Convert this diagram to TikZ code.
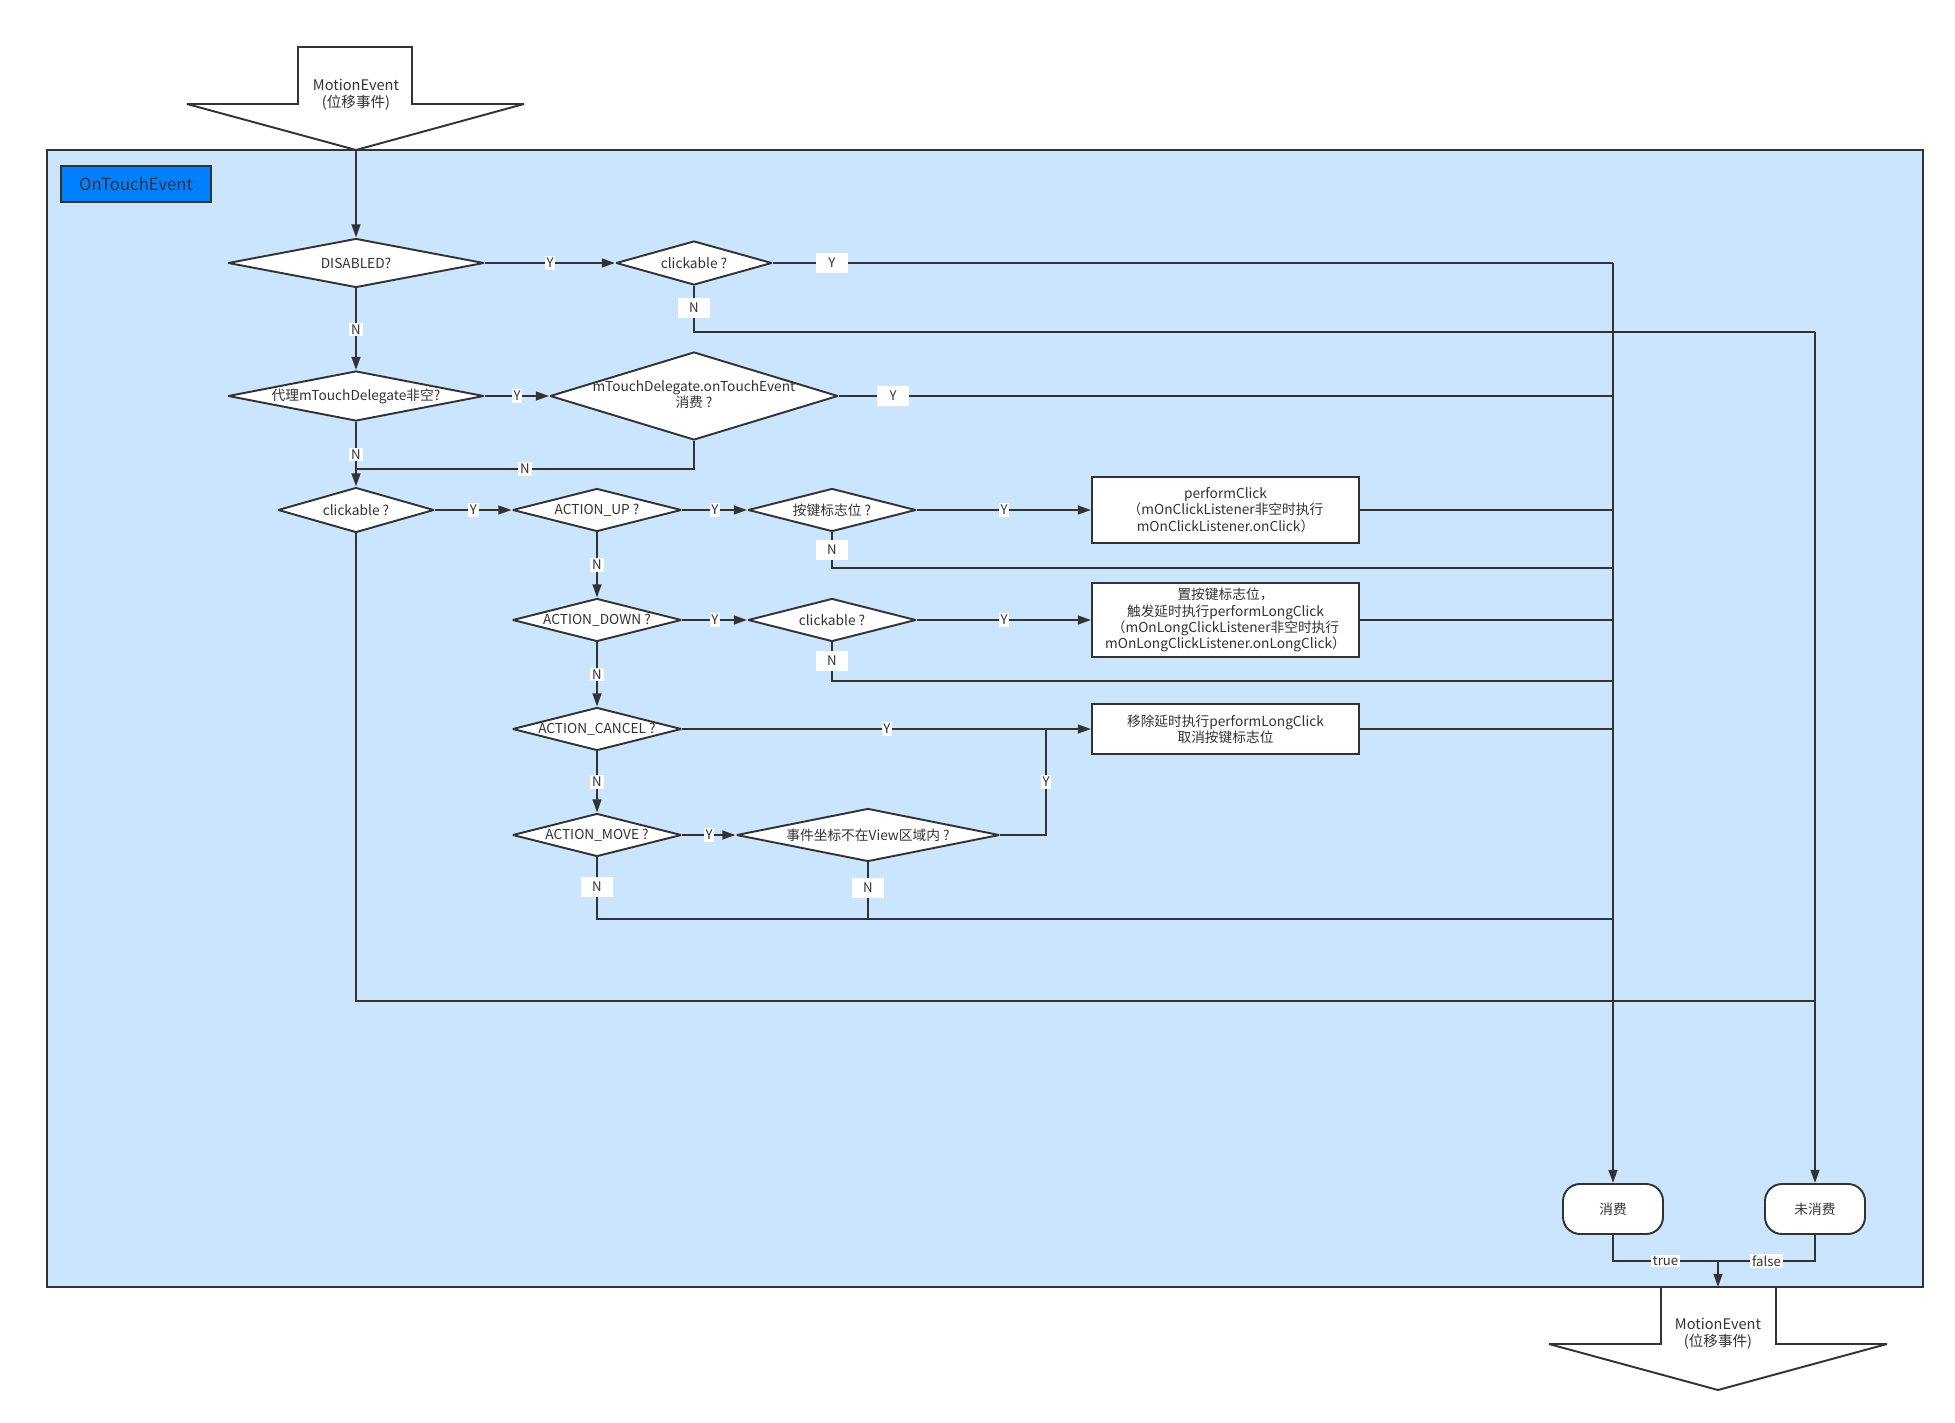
\documentclass[tikz,border=0pt]{standalone}
\usepackage{fontspec}
\setmainfont{Noto Sans CJK SC}
\usepackage{xcolor}
\usepackage{tikz}
\usetikzlibrary{positioning,arrows.meta,shapes.geometric}

\definecolor{ink}{HTML}{333333}
\definecolor{paneblue}{HTML}{CCE5FF}
\definecolor{titleblue}{HTML}{0080FF}

\begin{document}
\begin{tikzpicture}[x=0.02cm, y=-0.02cm, line width=1.1pt, color=ink, miter limit=3,
    font=\fontsize{7.8pt}{9.2pt}\selectfont,
    arr/.style={-{Triangle[length=7.5pt,width=5pt]}},
    decision/.style 2 args={diamond, draw, fill=white, inner sep=0pt, aspect=1,
      minimum width=#1*0.02cm, minimum height=#2*0.02cm,
      execute at begin node={\hbox to 0pt\bgroup\hss},
      execute at end node={\hss\egroup}},
    process/.style 2 args={rectangle, draw, fill=white, align=center, inner sep=0pt,
      minimum width=#1*0.02cm, minimum height=#2*0.02cm},
    terminal/.style={rectangle, draw, fill=white, rounded corners=0.34cm,
      minimum width=2cm, minimum height=1cm},
    tag/.style={fill=white, inner sep=1pt, font=\fontsize{7.5pt}{9pt}\selectfont},
    padtag/.style={tag, minimum width=0.64cm, minimum height=0.4cm}]
  \useasboundingbox (0,0) rectangle (1955,1423);

  % Frame
  \filldraw[fill=paneblue] (47,150) rectangle (1923,1287);
  \node[draw, fill=titleblue, minimum width=3cm, minimum height=0.72cm,
    font=\fontsize{9.5pt}{11pt}\selectfont] (title) at (136,184) {OnTouchEvent};

  % Input event
  \filldraw[fill=white] (298,47) -- (412,47) -- (412,104) -- (524,104) -- (356,150)
    -- (187,104) -- (298,104) -- cycle;
  \node[align=center, font=\fontsize{8.3pt}{9.8pt}\selectfont] (inEvt) at (356,95) {MotionEvent\\(位移事件)};
  \coordinate (inTip) at (356,150);

  % Decisions
  \node[decision={256}{49}] (dis) at (356,263) {DISABLED?};
  \node[decision={156}{44}] (clk1) at (694,263) {clickable ?};
  \node[decision={256}{50}] (deleg) at (356,396) {代理mTouchDelegate非空?};
  \node[decision={288}{88}] (mtd) at (694,396) {\begin{tabular}{@{}c@{}}mTouchDelegate.onTouchEvent\\消费 ?\end{tabular}};
  \node[decision={156}{45}] (clk2) at (356,510) {clickable ?};
  \node[decision={169}{43}] (up) at (597,510) {ACTION\_UP ?};
  \node[decision={168}{43}] (flag) at (832,510) {按键标志位 ?};
  \node[decision={169}{43}] (down) at (597,620) {ACTION\_DOWN ?};
  \node[decision={168}{43}] (clk3) at (832,620) {clickable ?};
  \node[decision={169}{43}] (cancel) at (597,729) {ACTION\_CANCEL ?};
  \node[decision={169}{43}] (move) at (597,835) {ACTION\_MOVE ?};
  \node[decision={263}{53}] (outside) at (868,835) {事件坐标不在View区域内 ?};

  % Actions
  \node[process={267}{66}] (click) at (1225.5,510) {performClick\\（mOnClickListener非空时执行\\mOnClickListener.onClick）};
  \node[process={267}{74}] (longclick) at (1225.5,620) {置按键标志位，\\触发延时执行performLongClick\\（mOnLongClickListener非空时执行\\mOnLongClickListener.onLongClick）};
  \node[process={267}{50}] (cancelclick) at (1225.5,729) {移除延时执行performLongClick\\取消按键标志位};

  % Results
  \node[terminal] (used) at (1613,1209) {消费};
  \node[terminal] (unused) at (1815,1209) {未消费};

  % Joints
  \coordinate (busY) at (1613,263);
  \coordinate (busN) at (1815,332);
  \coordinate (joinDel) at (356,469);
  \coordinate (joinUp) at (1613,568);
  \coordinate (joinDown) at (1613,681);
  \coordinate (joinCancel) at (1046,729);
  \coordinate (joinMove) at (1613,919);
  \coordinate (joinClk) at (1815,1001);
  \coordinate (merge) at (1718,1261);
  \coordinate (outTip) at (1718,1287);

  % Connections
  \draw[arr] (inTip) -- (dis);
  \draw[arr] (dis) -- node[tag] {Y} (clk1);
  \draw (clk1.east) -- node[padtag, pos=0.07] {Y} (busY);
  \draw (clk1.south) |- node[padtag, pos=0.24] {N} (busN);
  \draw[arr] (dis) -- node[tag] {N} (deleg);
  \draw[arr] (deleg) -- node[tag] {Y} (mtd);
  \draw (mtd.east) -- node[padtag, pos=0.07] {Y} (mtd.east -| busY);
  \draw[arr] (deleg) -- node[tag] {N} (clk2);
  \draw (mtd.south) |- node[tag, pos=0.75] {N} (joinDel);
  \draw[arr] (clk2) -- node[tag] {Y} (up);
  \draw[arr] (up) -- node[tag] {Y} (flag);
  \draw[arr] (flag) -- node[tag] {Y} (click);
  \draw (click) -- (click -| busY);
  \draw (flag.south) |- node[padtag, pos=0.24] {N} (joinUp);
  \draw[arr] (up) -- node[tag] {N} (down);
  \draw[arr] (down) -- node[tag] {Y} (clk3);
  \draw[arr] (clk3) -- node[tag] {Y} (longclick);
  \draw (longclick) -- (longclick -| busY);
  \draw (clk3.south) |- node[padtag, pos=0.24] {N} (joinDown);
  \draw[arr] (down) -- node[tag] {N} (cancel);
  \draw[arr] (cancel) -- node[tag] {Y} (cancelclick);
  \draw (cancelclick) -- (cancelclick -| busY);
  \draw[arr] (cancel) -- node[tag] {N} (move);
  \draw[arr] (move) -- node[tag] {Y} (outside);
  \draw (outside.east) -| node[tag, pos=0.75] {Y} (joinCancel);
  \draw (move.south) |- node[padtag, pos=0.24] {N} (joinMove);
  \draw (outside.south) -- node[padtag, pos=0.45] {N} (outside.south |- joinMove);
  \draw (clk2.south) |- (joinClk);
  \draw[arr] (busY) -- (used);
  \draw[arr] (busN) -- (unused);
  \draw (used) |- node[tag, pos=0.75] {true} (merge);
  \draw (unused) |- node[tag, pos=0.75] {false} (merge);

  % Output event
  \filldraw[fill=white] (1661,1287) -- (1776,1287) -- (1776,1344) -- (1887,1344) -- (1718,1390)
    -- (1549,1344) -- (1661,1344) -- cycle;
  \node[align=center, font=\fontsize{8.3pt}{9.8pt}\selectfont] (outEvt) at (1718,1334) {MotionEvent\\(位移事件)};
  \draw[arr] (merge) -- (outTip);
\end{tikzpicture}
\end{document}
